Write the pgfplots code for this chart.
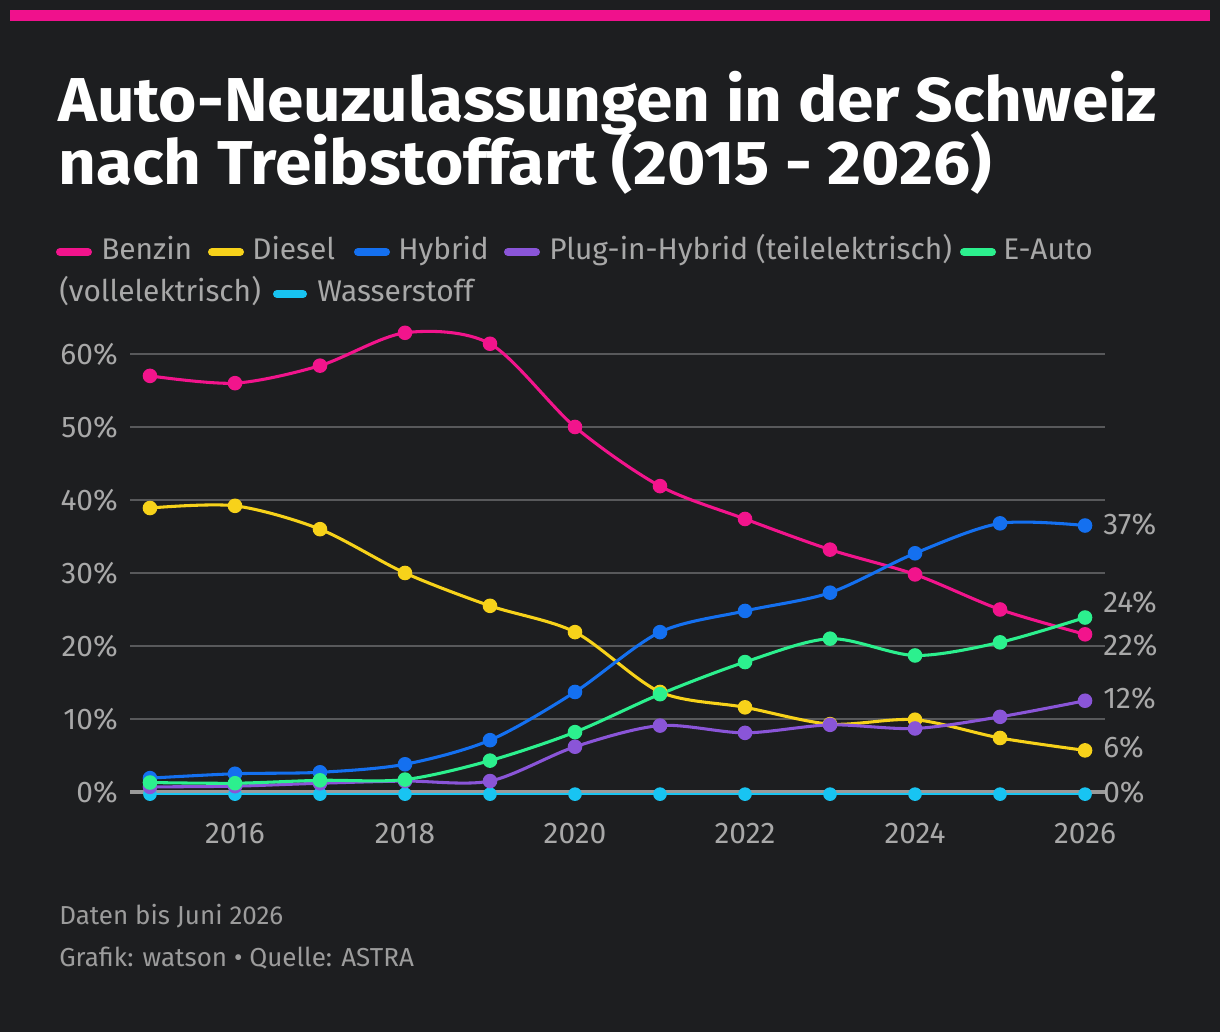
\documentclass[border=0pt]{standalone}
\usepackage{pgfplots}
\pgfplotsset{compat=1.18}
\usepackage{fontspec}
\setmainfont{Fira Sans}
\definecolor{bg}{HTML}{1D1E20}
\definecolor{pinkbar}{HTML}{F0118C}
\definecolor{cBenzin}{HTML}{F2148C}
\definecolor{cDiesel}{HTML}{F7D21A}
\definecolor{cHybrid}{HTML}{1470F0}
\definecolor{cPHEV}{HTML}{8A55D8}
\definecolor{cEauto}{HTML}{2CF08E}
\definecolor{cH2}{HTML}{18C4F2}
\definecolor{txt}{HTML}{A8A8A8}
\definecolor{foot}{HTML}{9C9C9C}
\definecolor{gridc}{HTML}{58595B}
\definecolor{zeroc}{HTML}{9A9A9A}

\pgfplotstableread{
year Benzin Diesel Hybrid PHEV Eauto H2
2015 57.0 38.9 1.9 0.7 1.3 0
2016 56.0 39.2 2.5 0.8 1.2 0
2017 58.4 36.0 2.7 1.2 1.6 0
2018 62.9 30.0 3.8 1.5 1.7 0
2019 61.4 25.5 7.1 1.5 4.3 0
2020 50.0 21.9 13.7 6.2 8.2 0
2021 41.9 13.7 21.9 9.1 13.4 0
2022 37.4 11.6 24.8 8.1 17.8 0
2023 33.2 9.3 27.3 9.2 21.0 0
2024 29.8 9.9 32.7 8.7 18.7 0
2025 25.0 7.4 36.8 10.3 20.5 0
2026 21.6 5.7 36.5 12.5 23.9 0
}\datatable

\newcommand{\lfont}{\fontsize{22.4}{24}\selectfont}
\begin{document}
\begin{tikzpicture}
\fill[bg] (0,0) rectangle (915pt,774pt);
\useasboundingbox (0,0) rectangle (915pt,774pt);
\begin{scope}[shift={(0,774pt)}, x=0.75pt, y=-0.75pt]
\fill[pinkbar] (10,10) rectangle (1210,21.5);
\node[anchor=base west, white, font=\fontsize{46.5}{50}\selectfont\bfseries, inner sep=0, xscale=1.06] at (58,122) {Auto-Neuzulassungen in der Schweiz};
\node[anchor=base west, white, font=\fontsize{46.5}{50}\selectfont\bfseries, inner sep=0, xscale=1.06] at (58,185) {nach Treibstoffart (2015 - 2026)};
% legend
\foreach \xa/\xb/\yy/\col in {60/88/252/cBenzin, 212/240/252/cDiesel, 358/386/252/cHybrid, 508/536/252/cPHEV, 964/992/252/cEauto, 277/303/294/cH2}
  \draw[\col, line width=6pt, line cap=round] (\xa,\yy) -- (\xb,\yy);
\foreach \xx/\yy/\t in {101/260/Benzin, 252/260/Diesel, 398/260/Hybrid, 549/260/{Plug-in-Hybrid (teilelektrisch)}, 1003/260/E-Auto, 59/302/(vollelektrisch), 317/302/Wasserstoff}
  \node[anchor=base west, inner sep=0, txt, font=\lfont] at (\xx,\yy) {\t};
% footer
\node[anchor=base west, inner sep=0, foot, font=\fontsize{19.5}{21}\selectfont] at (59,924) {Daten bis Juni 2026};
\node[anchor=base west, inner sep=0, foot, font=\fontsize{19.5}{21}\selectfont] at (59,966.5) {Grafik: watson • Quelle: ASTRA};
\end{scope}

\begin{axis}[
  at={(97.5pt,180pt)}, anchor=south west,
  width=731.25pt, height=355.9pt, scale only axis,
  xmin=2014.765, xmax=2026.235, ymin=0, ymax=65,
  clip=false,
  axis line style={draw=none},
  major tick style={draw=none},
  ytick={10,20,...,60},
  extra y ticks={0},
  extra y tick style={grid style={zeroc, line width=2.4pt}},
  ymajorgrids,
  grid style={gridc, line width=1.1pt},
  xtick={2016,2018,...,2026},
  /pgf/number format/assume math mode=true,
  /pgf/number format/1000 sep={},
  yticklabel={\pgfmathprintnumber{\tick}\%},
  ticklabel style={txt, font=\lfont, inner sep=0pt},
  yticklabel style={anchor=east, xshift=-9pt},
  xticklabel style={anchor=north, yshift=-23pt},
  every axis plot/.append style={smooth, line width=2.3pt, mark=*, mark size=4.3pt},
]
\addplot[cH2, line width=1.6pt, mark options={fill=cH2, draw=cH2}, yshift=-1.6pt] table[x=year, y=H2] {\datatable};
\addplot[cBenzin, mark options={fill=cBenzin, draw=cBenzin}] table[x=year, y=Benzin] {\datatable};
\addplot[cDiesel, mark options={fill=cDiesel, draw=cDiesel}] table[x=year, y=Diesel] {\datatable};
\addplot[cHybrid, mark options={fill=cHybrid, draw=cHybrid}] table[x=year, y=Hybrid] {\datatable};
\addplot[cPHEV, mark options={fill=cPHEV, draw=cPHEV}] table[x=year, y=PHEV] {\datatable};
\addplot[cEauto, mark options={fill=cEauto, draw=cEauto}] table[x=year, y=Eauto] {\datatable};
\foreach \v/\t in {36.7/37, 26.0/24, 20.1/22, 12.8/12, 6.1/6, 0/0}{
  \edef\tmp{\noexpand\node[anchor=west, inner sep=0, txt, font=\noexpand\lfont] at (axis cs:2026,\v) [xshift=13.5pt] {\t\noexpand\%};}
  \tmp
}
\end{axis}
\end{tikzpicture}
\end{document}
